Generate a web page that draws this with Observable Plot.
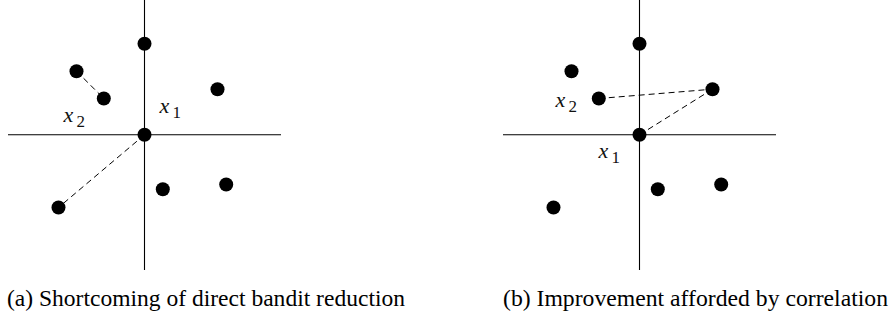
<!DOCTYPE html>
<html><head><meta charset="utf-8">
<script src="https://cdn.jsdelivr.net/npm/d3@7"></script>
<script src="https://cdn.jsdelivr.net/npm/@observablehq/plot@0.6"></script>
<style>
body{margin:0;background:#fff;}
#wrap{position:relative;width:893px;height:317px;overflow:hidden;background:#fff;}
.panel{position:absolute;top:0;}
.cap{position:absolute;font-family:"Liberation Serif","Times New Roman",serif;font-size:23.5px;line-height:24px;white-space:nowrap;transform-origin:0 0;color:#000;}
</style></head><body><div id="wrap"></div>
<script>
// Point cloud (same in both panels), units relative to axis origin
const pointX = [0, -6.8, -4.07, 7.3, 0, 1.83, 8.17, -8.6];
const pointY = [9.1, 6.36, 3.63, 4.56, 0, -5.44, -4.97, -7.27];

// Dashed connections (indices into the point arrays)
const linksA = [[1, 2], [4, 7]];
const linksB = [[2, 3], [4, 3]];

// Labels: subscript and position (left edge / baseline of the "x")
const labelsA = [
  {sub: "1", x: 1.5, y: 2.23},
  {sub: "2", x: -8.1, y: 1.26}
];
const labelsB = [
  {sub: "2", x: -8.4, y: 2.83},
  {sub: "1", x: -4.1, y: -2.3}
];

const captions = [
  "(a) Shortcoming of direct bandit reduction",
  "(b) Improvement afforded by correlation"
];

const points = pointX.map((x, i) => ({x, y: pointY[i]}));

function panel(links, labels) {
  const linkData = links.map(([a, b]) => ({x1: pointX[a], y1: pointY[a], x2: pointX[b], y2: pointY[b]}));
  return Plot.plot({
    width: 290, height: 270,
    margin: 0,
    x: {domain: [-14.4, 14.6], axis: null},
    y: {domain: [-13.57, 13.43], axis: null},
    style: {background: "transparent", color: "#000"},
    marks: [
      Plot.ruleY([0], {x1: -13.6, x2: 13.7, stroke: "#000", strokeWidth: 1.1}),
      Plot.ruleX([0], {y1: -13.57, y2: 13.43, stroke: "#000", strokeWidth: 1.1}),
      Plot.link(linkData, {x1: "x1", y1: "y1", x2: "x2", y2: "y2", stroke: "#000", strokeWidth: 1, strokeDasharray: "6,4"}),
      Plot.dot(points, {x: "x", y: "y", r: 7, fill: "#000", stroke: "none"}),
      Plot.text(labels, {x: "x", y: "y", text: () => "x", textAnchor: "start", lineAnchor: "bottom",
        fontStyle: "italic", fontSize: 22, fontFamily: "Liberation Serif", fill: "#111"}),
      Plot.text(labels, {x: "x", y: "y", text: "sub", dx: 13, dy: 5, textAnchor: "start", lineAnchor: "bottom",
        fontSize: 17, fontFamily: "Liberation Serif", fill: "#111"})
    ]
  });
}

const wrap = document.getElementById("wrap");
const pa = panel(linksA, labelsA);
pa.classList.add("panel"); pa.style.left = "0px";
const pb = panel(linksB, labelsB);
pb.classList.add("panel"); pb.style.left = "495px";
wrap.appendChild(pa); wrap.appendChild(pb);

const capLeft = [7, 503], capWidth = [398, 385];
captions.forEach((t, i) => {
  const s = document.createElement("span");
  s.className = "cap";
  s.textContent = t;
  s.style.left = capLeft[i] + "px";
  s.style.top = "286px";
  wrap.appendChild(s);
  const w = s.getBoundingClientRect().width;
  s.style.transform = `scaleX(${capWidth[i] / w})`;
});
</script>
</body></html>
